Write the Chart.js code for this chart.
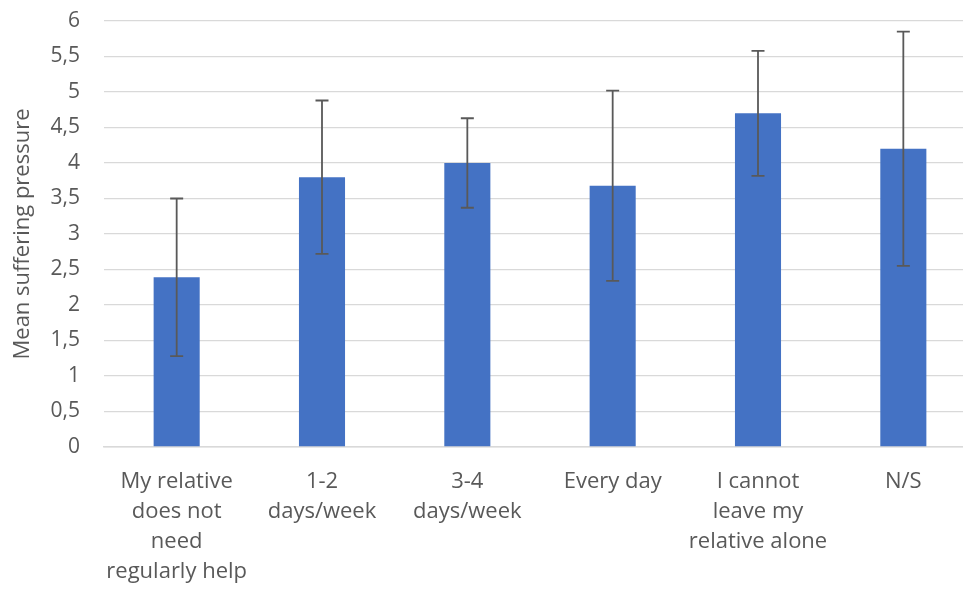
<!DOCTYPE html>
<html>
<head>
<meta charset="utf-8">
<script src="https://cdn.jsdelivr.net/npm/chart.js@4.4.1/dist/chart.umd.min.js"></script>
<style>
  html, body { margin: 0; padding: 0; background: #fff; overflow: hidden; }
  #wrap { width: 976px; height: 591px; position: relative; }
</style>
</head>
<body>
<div id="wrap"><canvas id="chart"></canvas></div>
<script>
const categories = [
    ['My relative', 'does not', 'need', 'regularly help'],
    ['1-2', 'days/week'],
    ['3-4', 'days/week'],
    ['Every day'],
    ['I cannot', 'leave my', 'relative alone'],
    ['N/S']
];
const meanValues = [2.39, 3.80, 4.00, 3.68, 4.70, 4.20];
const sdValues = [1.11, 1.08, 0.63, 1.34, 0.88, 1.65];
const yTicks = [0, 0.5, 1, 1.5, 2, 2.5, 3, 3.5, 4, 4.5, 5, 5.5, 6];

const textColor = '#595959';
const gridColor = '#d9d9d9';
const fontFamily = '"Open Sans", Lato, sans-serif';

// Draw the standard deviation whiskers on top of each bar
const errorBars = {
    id: 'errorBars',
    afterDatasetsDraw(chart) {
        const ctx = chart.ctx;
        const yScale = chart.scales.y;
        const meta = chart.getDatasetMeta(0);
        ctx.save();
        ctx.strokeStyle = '#595959';
        ctx.lineWidth = 1.8;
        meta.data.forEach((bar, i) => {
            const top = yScale.getPixelForValue(meanValues[i] + sdValues[i]);
            const bottom = yScale.getPixelForValue(meanValues[i] - sdValues[i]);
            const x = bar.x;
            ctx.beginPath();
            ctx.moveTo(x, top);
            ctx.lineTo(x, bottom);
            ctx.moveTo(x - 6.5, top);
            ctx.lineTo(x + 6.5, top);
            ctx.moveTo(x - 6.5, bottom);
            ctx.lineTo(x + 6.5, bottom);
            ctx.stroke();
        });
        ctx.restore();
    }
};

new Chart(document.getElementById('chart'), {
    type: 'bar',
    data: {
        labels: categories,
        datasets: [{
            data: meanValues,
            backgroundColor: '#4472c4',
            borderWidth: 0,
            categoryPercentage: 1,
            barPercentage: 0.317
        }]
    },
    options: {
        responsive: true,
        maintainAspectRatio: false,
        animation: false,
        layout: { padding: { top: 21, right: 0, left: 0, bottom: 0 } },
        plugins: {
            legend: { display: false },
            tooltip: { enabled: false }
        },
        scales: {
            x: {
                grid: { display: false, drawTicks: false },
                border: { color: gridColor, width: 1.5 },
                ticks: {
                    color: textColor,
                    font: { family: fontFamily, size: 22, lineHeight: '30px' },
                    padding: 20,
                    maxRotation: 0,
                    autoSkip: false
                },
                afterFit(scale) { scale.height = 144; }
            },
            y: {
                min: 0,
                max: 6,
                afterBuildTicks(scale) { scale.ticks = yTicks.map(v => ({ value: v })); },
                grid: { color: gridColor, lineWidth: 1.3, drawTicks: true, tickLength: 24, tickColor: 'rgba(0,0,0,0)' },
                border: { display: false },
                ticks: {
                    color: textColor,
                    font: { family: fontFamily, size: 21 },
                    padding: 0,
                    callback: v => String(v).replace('.', ',')
                },
                title: {
                    display: true,
                    text: 'Mean suffering pressure',
                    color: textColor,
                    font: { family: fontFamily, size: 22 },
                    padding: { top: 10, bottom: 0 }
                },
                afterFit(scale) { scale.width = 104; }
            }
        }
    },
    plugins: [errorBars]
});
</script>
</body>
</html>
